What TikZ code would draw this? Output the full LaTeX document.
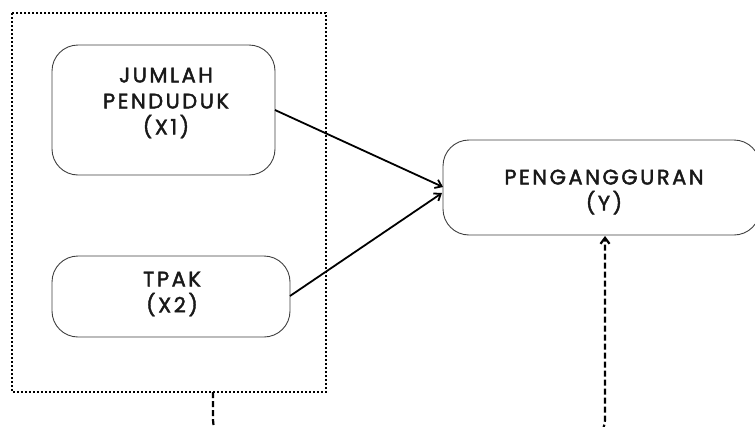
\documentclass[tikz,border=0pt]{standalone}
\usepackage{fontspec}
\newfontfamily\labfont[LetterSpace=12,FakeBold=2]{Poppins}
\usetikzlibrary{arrows.meta}
\tikzset{
  varbox/.style={draw=black!75, line width=0.9pt, rounded corners=26pt, fill=white},
  lab/.style={font=\labfont\fontsize{21}{26}\selectfont, align=center, text=black!90},
  arr/.style={-{Straight Barb[length=6pt,width=9pt]}, line width=1.8pt, black},
}
\begin{document}
\begin{tikzpicture}[x=1pt,y=-1pt]
\useasboundingbox (0,0) rectangle (755,426);
\clip (0,0) rectangle (755,426);
% dotted group box
\draw[line width=2.4pt, dash pattern=on 2pt off 2pt, black] (12,13) rectangle (326,392);
\coordinate (gb) at (213,392);
% boxes
\draw[varbox] (52,45) rectangle (275,175);
\draw[varbox] (52,256) rectangle (290,337);
\draw[varbox] (443,140) rectangle (760,235);
\node[lab] (x1) at (166,103) {JUMLAH\\PENDUDUK\\(X1)};
\node[lab] (x2) at (172,294) {TPAK\\(X2)};
\node[lab] (y) at (604,192) {PENGANGGURAN\\(Y)};
\coordinate (x1e) at (275,110);
\coordinate (x2e) at (290,296);
\coordinate (ya) at (443,187);
\coordinate (yb) at (442,193);
\coordinate (ys) at (605,236);
\draw[arr] (x1e) -- (ya);
\draw[arr] (x2e) -- (yb);
\draw[arr, line width=2.2pt, dash pattern=on 6pt off 3pt, rounded corners=20pt] (gb) -- (213,440) -- (605,440) -- (ys);
\end{tikzpicture}
\end{document}
